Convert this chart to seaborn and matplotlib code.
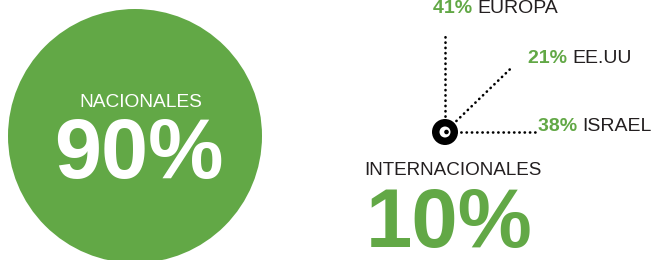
import numpy as np
import matplotlib
matplotlib.use("Agg")
import matplotlib.pyplot as plt
import seaborn as sns
from matplotlib.patches import Circle

# datos
segmentos = ['NACIONALES', 'INTERNACIONALES']
pct_segmentos = [90, 10]
destinos = ['EUROPA', 'EE.UU', 'ISRAEL']
pct_destinos = [41, 21, 38]

VERDE = '#62a846'
GRIS = '#231f20'

sns.set_theme(style='white')
plt.rcParams['font.family'] = ['Liberation Sans', 'DejaVu Sans']

fig = plt.figure(figsize=(6.53, 2.60), dpi=100)
ax = fig.add_axes([0, 0, 1, 1])
ax.set_xlim(0, 653)
ax.set_ylim(260, 0)
ax.set_aspect('equal')
ax.axis('off')

# circulo grande nacionales
ax.add_patch(Circle((135, 136), 127, color=VERDE, lw=0))
ax.text(141, 107, segmentos[0], color='white', fontsize=13.8, ha='center', va='baseline')
ax.text(139, 178, f'{pct_segmentos[0]}%', color='white', fontsize=61, fontweight='bold',
        ha='center', va='baseline')

# internacionales
ax.text(364, 175, segmentos[1], color=GRIS, fontsize=13.6, ha='left', va='baseline')
ax.text(366, 247, f'{pct_segmentos[1]}%', color=VERDE, fontsize=60, fontweight='bold',
        ha='left', va='baseline')

# lineas punteadas desde el centro
hub = (445, 132)
angulos = [90, 44, 0]
largos = [100, 91, 90]
pos_texto = [(433, 13), (528, 63), (538, 131)]
for nombre, pct, ang, largo, (tx, ty) in zip(destinos, pct_destinos, angulos, largos, pos_texto):
    xe = hub[0] + largo * np.cos(np.radians(ang))
    ye = hub[1] - largo * np.sin(np.radians(ang))
    sns.lineplot(x=[hub[0], xe], y=[hub[1], ye], ax=ax, color='black', lw=1.9,
                 linestyle=(0, (0.1, 1.9)), dash_capstyle='round', sort=False, estimator=None)
    t = ax.text(tx, ty, f'{pct}% ', color=VERDE, fontsize=14, fontweight='bold',
                ha='left', va='baseline')
    ax.annotate(nombre, xycoords=t, xy=(1, 0), va='bottom', ha='left',
                color=GRIS, fontsize=14)

# logo central
ax.add_patch(Circle(hub, 13, color='black', lw=0, zorder=5))
ax.add_patch(Circle(hub, 5.5, color='white', lw=0, zorder=6))
ax.add_patch(Circle((hub[0] + 1.5, hub[1]), 2.3, color='black', lw=0, zorder=7))

fig.savefig('out.png', dpi=100)
